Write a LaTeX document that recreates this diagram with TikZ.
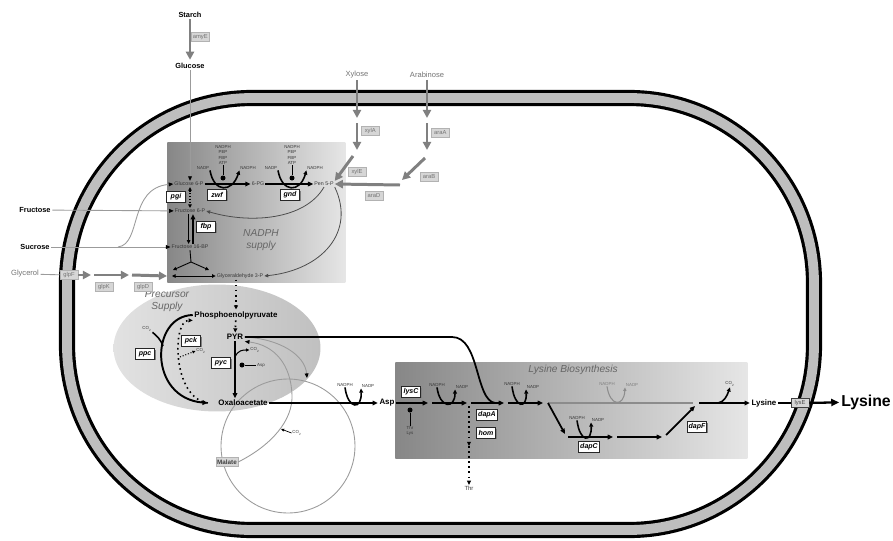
\documentclass[tikz,border=0pt]{standalone}
\usepackage{fontspec}
\setmainfont{Liberation Sans}
\usetikzlibrary{arrows.meta,calc,positioning,shadows,shapes.geometric}
\definecolor{wallgray}{RGB}{190,190,190}
\definecolor{feedgray}{RGB}{128,128,128}
\definecolor{tagfill}{RGB}{214,214,214}
\definecolor{tagtext}{RGB}{115,115,115}
\definecolor{metgray}{RGB}{55,55,55}
\definecolor{linkgray}{RGB}{155,155,155}
\definecolor{boxdark}{RGB}{135,135,135}
\definecolor{boxlight}{RGB}{230,230,230}
\definecolor{ovaldark}{RGB}{192,192,192}
\definecolor{ovallight}{RGB}{226,226,226}

\begin{document}
\begin{tikzpicture}[
  x=0.02cm, y=-0.02cm,
  flux/.style={line width=1pt, -{Triangle[length=3pt,width=2.6pt]}},
  feed/.style={draw=feedgray, line width=1.7pt, -{Triangle[length=4.6pt,width=4.6pt]}},
  link/.style={draw=linkgray, line width=0.5pt, -{Triangle[length=2.6pt,width=2.2pt,color=black]}},
  recyc/.style={draw=black!70, line width=0.45pt, -{Triangle[length=2.2pt,width=2pt]}},
  curl/.style={line width=0.9pt, -{Triangle[length=2.4pt,width=2.2pt]}},
  dots/.style={dotted, line width=0.9pt, -{Triangle[length=2.4pt,width=2.2pt]}},
  met/.style={font=\fontsize{3}{3.5}\selectfont, text=metgray, inner sep=0.5pt},
  hub/.style={font=\bfseries\fontsize{4.5}{5}\selectfont, inner sep=0.8pt},
  src/.style={font=\bfseries\fontsize{4.2}{5}\selectfont, inner sep=0.8pt},
  ext/.style={font=\fontsize{4.3}{5}\selectfont, text=black!55, inner sep=0.8pt},
  cof/.style={font=\fontsize{2.5}{2.9}\selectfont, text=metgray, inner sep=0.3pt, align=center},
  enz/.style={draw=black!85, line width=0.5pt, fill=white, inner sep=0.8pt,
    font=\bfseries\itshape\fontsize{4}{4.5}\selectfont, minimum width=0.38cm, minimum height=0.21cm,
    drop shadow={shadow xshift=0.7pt, shadow yshift=-0.7pt, fill=black!50, opacity=1}},
  tag/.style={draw=black!30, line width=0.3pt, fill=tagfill, text=tagtext, inner sep=0.6pt,
    font=\fontsize{3.3}{4}\selectfont, minimum width=0.36cm, minimum height=0.19cm},
  title/.style={font=\itshape\fontsize{5.8}{7}\selectfont, text=black!60, align=center},
  inhib/.style={fill=black, circle, inner sep=0pt, minimum size=0.1cm}
]
\useasboundingbox (0,0) rectangle (893,541);

% cell envelope
\draw[line width=9.2pt, black, rounded corners=3.7cm] (67,98) rectangle (814,530);
\draw[line width=5.6pt, wallgray, rounded corners=3.7cm] (67,98) rectangle (814,530);

% shaded modules
\node[shade, left color=boxdark, right color=boxlight, minimum width=3.56cm, minimum height=2.8cm,
  inner sep=0pt, anchor=north west] (nadph) at (167,142) {};
\node[shade, left color=boxdark, right color=boxlight, minimum width=7.04cm, minimum height=1.92cm,
  inner sep=0pt, anchor=north west] (lysbox) at (395,362) {};
\node[ellipse, shade, shading angle=60, left color=ovallight, right color=ovaldark,
  minimum width=4.14cm, minimum height=2.54cm, inner sep=0pt] (precursor) at (217,348) {};
\node[circle, draw=linkgray, line width=0.5pt, minimum size=2.68cm, inner sep=0pt] (tca) at (288,446) {};

\node[title] (nadphtitle) at (261,240) {NADPH\\supply};
\node[title] (precursortitle) at (167,301) {Precursor\\Supply};
\node[title] (lystitle) at (573,370) {Lysine Biosynthesis};

% NADPH supply
\node[met] (g6p) at (189,184) {Glucose 6-P};
\node[met] (pg6) at (258,184) {6-PG};
\node[met] (pen5p) at (324,184) {Pen 5-P};
\node[met] (f6p) at (190,211) {Fructose 6-P};
\node[met] (f16bp) at (190,247) {Fructose 16-BP};
\node[met] (ga3p) at (240,276) {Glyceraldehyde 3-P};
\draw[flux] (g6p) -- (pg6);
\draw[flux] (pg6) -- (pen5p);

\node[cof] (zwfnadp) at (203,168) {NADP};
\node[cof] (zwfnadph) at (248,168) {NADPH};
\node[cof] (zwfeff) at (223,155) {NADPH\\PEP\\FBP\\ATP};
\node[inhib] (zwfdot) at (223,178) {};
\draw[line width=0.3pt] (zwfeff) -- (zwfdot);
\draw[curl] (zwfnadp.south east) .. controls (214,193) and (232,193) .. (zwfnadph.south west);
\node[enz] (zwf) at (217,195) {zwf};

\node[cof] (gndnadp) at (271,168) {NADP};
\node[cof] (gndnadph) at (315,168) {NADPH};
\node[cof] (gndeff) at (292,155) {NADPH\\PEP\\FBP\\ATP};
\node[inhib] (gnddot) at (292,178) {};
\draw[line width=0.3pt] (gndeff) -- (gnddot);
\draw[curl] (gndnadp.south east) .. controls (282,193) and (300,193) .. (gndnadph.south west);
\node[enz] (gnd) at (290,195) {gnd};

\node[enz] (pgi) at (176,197) {pgi};
\draw[densely dotted, line width=0.6pt, {Triangle[length=2pt,width=2pt]}-{Triangle[length=2pt,width=2pt]}]
  (f6p.north |- g6p.south) -- (f6p.north);
\node[enz] (fbp) at (206,227) {fbp};
\draw[flux] ([xshift=1.7pt]f16bp.north) -- ([xshift=1.7pt]f6p.south);
\draw[line width=0.5pt, -{Triangle[length=2.2pt,width=2pt]}] ([xshift=-0.8pt]f6p.south) -- ([xshift=-0.8pt]f16bp.north);

\coordinate (aldo) at (191,262);
\coordinate (aldoleft) at (173,270);
\coordinate (aldoright) at (209,270);
\coordinate (dhap) at (172,276);
\draw[line width=0.5pt] (f16bp.south) -- (aldo);
\draw[line width=0.5pt, -{Triangle[length=2pt,width=2pt]}] (aldo) -- (aldoleft);
\draw[line width=0.5pt, -{Triangle[length=2pt,width=2pt]}] (aldo) -- (aldoright);
\draw[line width=0.5pt, {Triangle[length=2pt,width=2pt]}-{Triangle[length=2pt,width=2pt]}] (dhap) -- (ga3p.west);

\draw[recyc] (pen5p.south) .. controls (305,220) and (250,224) .. (f6p.east);
\draw[recyc] (pen5p.south east) .. controls (356,232) and (322,270) .. (ga3p.east);

% substrates
\node[src] (starch) at (190,15) {Starch};
\node[src] (glucose) at (190,66) {Glucose};
\node[tag, anchor=west] (amye) at (191,37) {amyE};
\draw[feed, shorten >=1pt] (starch) -- (glucose);
\draw[link] (glucose) -- (glucose.south |- g6p.north);

\node[src] (fructose) at (35,210) {Fructose};
\node[src] (sucrose) at (35,247) {Sucrose};
\node[ext] (glycerol) at (25,274) {Glycerol};
\draw[link] (fructose) -- (f6p);
\draw[link] (sucrose) -- (f16bp);
\coordinate (sucbranch) at (118,247);
\draw[link] (sucbranch) .. controls (142,244) and (128,188) .. (g6p.west);

\node[tag] (glpF) at (69,275) {glpF};
\node[tag] (glpK) at (104,287) {glpK};
\node[tag] (glpD) at (143,287) {glpD};
\coordinate (glpk1) at (91,275);
\coordinate (glpk2) at (94,275);
\coordinate (glpd1) at (129,275);
\coordinate (glpd2) at (132,275);
\draw[draw=linkgray, line width=0.5pt] (glycerol) -- (glpF);
\draw[feed] (glpF) -- (glpk1);
\draw[feed] (glpk2) -- (glpd1);
\draw[feed] (glpd2) -- (nadph.west |- dhap);

\node[ext] (xylose) at (357,75) {Xylose};
\coordinate (xylin) at (357,118);
\coordinate (xyla1) at (357,123);
\coordinate (xyla2) at (357,150);
\coordinate (xyle1) at (353,156);
\draw[feed] (xylose) -- (xylin);
\draw[feed] (xyla1) -- (xyla2);
\node[tag, anchor=west] (xylA) at (361,131) {xylA};
\draw[feed] (xyle1) -- (pen5p.north east);
\node[tag] (xylE) at (357,172) {xylE};

\node[ext] (arabinose) at (427,75) {Arabinose};
\coordinate (arain) at (427,118);
\coordinate (araa1) at (427,123);
\coordinate (araa2) at (427,150);
\coordinate (arab1) at (425,158);
\coordinate (arab2) at (402,180);
\coordinate (arad1) at (400,185);
\draw[feed] (arabinose) -- (arain);
\draw[feed] (araa1) -- (araa2);
\node[tag, anchor=west] (araA) at (431,133) {araA};
\draw[feed] (arab1) -- (arab2);
\node[tag] (araB) at (429,177) {araB};
\draw[feed] (arad1) -- (pen5p.east);
\node[tag] (araD) at (374,196) {araD};

% precursor supply
\node[hub] (pep) at (236,315) {Phosphoenolpyruvate};
\node[hub] (pyr) at (235,337) {PYR};
\node[hub] (oaa) at (243,403) {Oxaloacetate};
\draw[dots] (ga3p.south -| pep.north) -- (pep.north);
\draw[dots] (pep) -- (pyr);
\draw[flux] (pyr.south) -- (pyr.south |- oaa.north);

\node[enz] (pyc) at (221,363) {pyc};
\coordinate (pycco2) at (235,357);
\node[cof] (pycco2lab) at (255,350) {CO\textsubscript{2}};
\draw[line width=0.6pt, -{Triangle[length=2pt,width=1.8pt]}] (pycco2) .. controls (238,350) and (243,350) .. (pycco2lab.west);
\node[inhib] (pycdot) at (242,365) {};
\node[cof] (pycasp) at (261,365) {Asp};
\draw[line width=0.3pt] (pycdot) -- (pycasp);

\draw[flux, line width=1.1pt] (pep.west) .. controls (150,316) and (148,398) .. ([xshift=-5pt]oaa.west);
\node[cof] (ppcco2) at (147,329) {CO\textsubscript{2}};
\draw[line width=0.9pt] (ppcco2.south east) .. controls (157,336) and (161,340) .. (163,346);
\node[enz] (ppc) at (145,354) {ppc};

\draw[dots] ([xshift=-5pt]oaa.west) .. controls (172,398) and (172,320) .. (pep.south west);
\node[enz] (pck) at (191,341) {pck};
\coordinate (pckco2) at (180,357);
\node[cof] (pckco2lab) at (201,351) {CO\textsubscript{2}};
\draw[densely dotted, line width=0.6pt, -{Triangle[length=1.8pt,width=1.6pt]}] (pckco2) -- (pckco2lab.west);

% side routes around PYR
\coordinate (tcain) at (307,378);
\draw[link] (pyr.east) .. controls (280,339) and (305,355) .. (tcain);
\node[tag, text=black!75, font=\bfseries\fontsize{3.6}{4}\selectfont] (malate) at (227,462) {Malate};
\draw[link] (malate.east) .. controls (272,445) and (293,420) .. (292,395) .. controls (291,365) and (275,345) .. (pyr.south east);
\coordinate (maeco2) at (281,429);
\node[cof] (maeco2lab) at (297,433) {CO\textsubscript{2}};
\draw[line width=0.4pt, -{Triangle[length=1.8pt,width=1.6pt]}] (maeco2lab.west) -- (maeco2);

% PYR to dapA
\coordinate (dapajoin) at (495,403);
\draw[line width=1pt] (pyr.east) -- (452,337) .. controls (480,337) and (475,400) .. (dapajoin);

% aspartate
\node[hub] (asp) at (387,403) {Asp};
\draw[flux] (oaa) -- (asp);
\node[cof] (aatnadph) at (345,385) {NADPH};
\node[cof] (aatnadp) at (368,386) {NADP};
\draw[curl] (aatnadph.south) .. controls (348,410) and (362,410) .. (aatnadp.south west);

% lysine biosynthesis
\coordinate (l1) at (428,403);
\coordinate (l2) at (432,403);
\coordinate (l3) at (467,403);
\coordinate (l4) at (471,403);
\coordinate (l5) at (504,403);
\coordinate (l6) at (508,403);
\coordinate (l7) at (543,403);
\coordinate (l8) at (548,403);
\coordinate (l9) at (693,403);
\coordinate (l10) at (565,434);
\coordinate (l11) at (568,437);
\coordinate (l12) at (613,437);
\coordinate (l13) at (617,437);
\coordinate (l14) at (662,437);
\coordinate (l15) at (666,435);
\coordinate (l16) at (695,406);
\coordinate (l17) at (699,403);

\draw[flux] (asp) -- (l1);
\node[enz] (lysC) at (411,392) {lysC};
\node[inhib] (lyscdot) at (410,410) {};
\node[cof] (lyscfb) at (410,431) {Thr\\Lys};
\draw[line width=0.3pt] (lyscdot) -- (lyscfb);

\draw[flux] (l2) -- (l3);
\node[cof] (asdnadph) at (437,385) {NADPH};
\node[cof] (asdnadp) at (462,387) {NADP};
\draw[curl] (asdnadph.south) .. controls (440,409) and (455,409) .. (asdnadp.south west);

\draw[flux] (l4) -- (l5);
\node[enz] (dapA) at (487,415) {dapA};
\node[enz] (hom) at (486,433) {hom};
\coordinate (thrtop) at (469,406);
\coordinate (thrmid) at (469,446);
\node[cof, font=\fontsize{3.4}{4}\selectfont] (thr) at (469,488) {Thr};
\draw[dots] (thrtop) -- (thrmid);
\draw[dots] (thrmid) -- (thr);

\draw[flux] (l6) -- (l7);
\node[cof] (dapbnadph) at (512,384) {NADPH};
\node[cof] (dapbnadp) at (533,387) {NADP};
\draw[curl] (dapbnadph.south) .. controls (515,409) and (527,409) .. (dapbnadp.south west);

\draw[draw=black!45, line width=0.7pt] (l8) -- (l9);
\node[cof, text=black!50] (ddhnadph) at (607,384) {NADPH};
\node[cof, text=black!50] (ddhnadp) at (632,385) {NADP};
\draw[draw=black!45, line width=0.6pt, -{Triangle[length=2pt,width=1.8pt]}] (ddhnadph.south) .. controls (610,407) and (624,407) .. (ddhnadp.south west);

\draw[flux] (l8) -- (l10);
\draw[flux] (l11) -- (l12);
\node[cof] (dapcnadph) at (577,418) {NADPH};
\node[cof] (dapcnadp) at (598,420) {NADP};
\draw[curl] (dapcnadph.south) .. controls (580,443) and (592,443) .. (dapcnadp.south west);
\node[enz] (dapC) at (589,447) {dapC};
\draw[flux] (l13) -- (l14);
\draw[flux] (l15) -- (l16);
\node[enz] (dapF) at (697,427) {dapF};

\node[hub] (lysine) at (764,403) {Lysine};
\draw[flux] (l17) -- (lysine);
\coordinate (lysaco2) at (718,403);
\node[cof] (lysaco2lab) at (730,384) {CO\textsubscript{2}};
\draw[curl] (lysaco2) .. controls (724,402) and (727,396) .. (lysaco2lab.south);

% export
\node[tag, draw=black!75, text=black!70] (lysE) at (800,403) {lysE};
\node[font=\bfseries\fontsize{9}{10}\selectfont, inner sep=1pt] (lysineout) at (866,402) {Lysine};
\draw[line width=1pt] (lysine) -- (lysE);
\draw[line width=1.3pt, -{Triangle[length=4.5pt,width=4pt]}] (lysE) -- (lysineout);

\end{tikzpicture}
\end{document}
